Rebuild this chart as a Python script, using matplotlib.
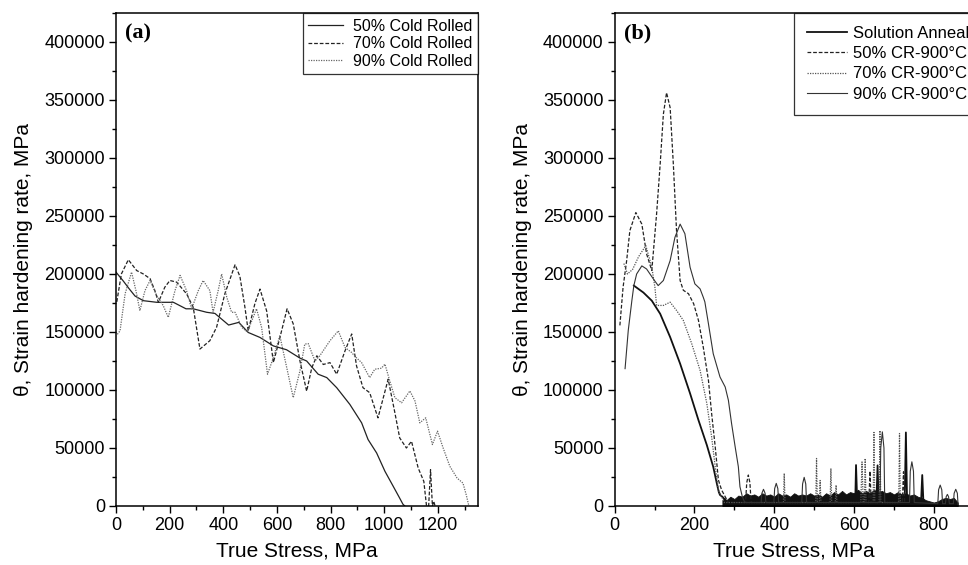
import matplotlib
matplotlib.use("Agg")
import matplotlib.pyplot as plt
from matplotlib.ticker import MultipleLocator, FuncFormatter

plt.rcParams['font.family'] = ['Liberation Sans', 'DejaVu Sans']

# (a) cold rolled sheets: true stress (MPa) vs strain hardening rate (MPa)
cr50_stress = [0, 27, 50, 71, 102, 152, 214, 261, 288, 338, 369, 420, 458, 493, 537, 587, 636,
               686, 711, 754, 786, 823, 872, 916, 940, 972, 1003, 1034, 1058, 1070, 1077]
cr50_theta = [201600, 194000, 187000, 181000, 177000, 175600, 175600, 170000, 170000, 167000,
              166000, 156000, 158300, 149600, 145300, 138000, 134700, 127500, 125000, 113600,
              110700, 102000, 87600, 71700, 57300, 45700, 29900, 16900, 6750, 1560, 0]

cr70_stress = [3, 20, 46, 77, 102, 127, 145, 158, 182, 201, 226, 263, 288, 313, 350, 375, 406,
               444, 462, 481, 493, 518, 537, 562, 587, 611, 638, 661, 686, 711, 730, 749, 773,
               798, 823, 854, 879, 897, 921, 946, 977, 1015, 1040, 1058, 1083, 1102, 1127, 1148,
               1158, 1166, 1173, 1180, 1185, 1190, 1195]
cr70_theta = [176000, 200000, 212300, 203000, 200000, 196000, 185700, 175600, 188600, 194400,
              193000, 183000, 171300, 135300, 142500, 154000, 183000, 208000, 198000, 171000,
              151000, 174500, 187000, 168000, 123600, 145000, 170000, 157000, 125000, 99000,
              119000, 129500, 122000, 123600, 113600, 133700, 148300, 120800, 102000, 97700,
              76000, 109300, 80400, 58700, 50000, 55800, 32700, 21200, 0, 0, 31300, 0, 4000, 0, 0]

cr90_stress = [5, 15, 34, 58, 75, 89, 108, 127, 152, 176, 195, 220, 239, 263, 282, 307, 325,
               350, 362, 381, 394, 413, 431, 444, 469, 490, 524, 543, 565, 587, 611, 642, 661,
               686, 704, 717, 742, 760, 798, 829, 854, 879, 891, 916, 946, 965, 990, 1003, 1021,
               1040, 1065, 1096, 1115, 1133, 1155, 1180, 1199, 1220, 1245, 1272, 1294, 1306, 1316]
cr90_theta = [148000, 151000, 183000, 201600, 185000, 168400, 185700, 194400, 181400, 172800,
              162600, 185700, 198800, 185700, 170000, 185700, 194400, 185700, 167000, 185700,
              200000, 180000, 167000, 167000, 154000, 150000, 170000, 154000, 113600, 128000,
              146800, 113600, 93400, 116500, 139600, 140000, 125000, 129500, 142500, 151000,
              136700, 132300, 129000, 123600, 110700, 117900, 118800, 122300, 107800, 93400,
              89000, 99200, 90500, 71700, 76000, 53000, 64500, 50000, 34200, 24100, 19700,
              9700, 0]

# (b) solution annealed and cold rolled + 900°C annealed
sa_stress = [48, 72, 93, 114, 139, 164, 189, 210, 231, 247, 256, 261, 264, 270, 275, 282,
             603, 605, 608, 656, 659, 662, 727, 730, 733, 768, 771, 774]
sa_theta = [190000, 184000, 177000, 165700, 145600, 122700, 97000, 74000, 52500, 33800, 19500,
            12000, 9500, 8000, 6000, 3000,
            3000, 35300, 3000, 3000, 35000, 3000, 3000, 63400, 3000, 3000, 26700, 3000]

a50_stress = [13, 21, 30, 38, 53, 68, 80, 93, 105, 114, 122, 130, 139, 147, 155, 164, 172, 185,
              198, 210, 222, 235, 243, 252, 260, 268, 277, 285,
              328, 331, 335, 339, 342, 637, 640, 643, 721, 724, 727]
a50_theta = [155700, 188600, 211600, 237400, 253000, 243000, 217300, 203000, 251700, 294700,
             337700, 356300, 343400, 294700, 237400, 194400, 186000, 183000, 174300, 160000,
             137000, 108400, 79700, 51000, 22400, 13800, 8000, 3000,
             3000, 20000, 26700, 20000, 3000, 3000, 30000, 3000, 3000, 29500, 3000]

a70_stress = [23, 32, 45, 60, 78, 93, 101, 105, 122, 139, 155, 172, 193, 214, 231, 243, 252,
              260, 268, 275,
              423, 425, 427, 504, 506, 508, 513, 515, 517, 540, 542, 544, 553, 555, 557,
              617, 620, 623, 626, 628, 630, 648, 650, 652, 663, 665, 667, 712, 714, 716]
a70_theta = [209000, 200000, 204000, 215000, 224500, 206000, 188000, 172900, 172900, 175700,
             168600, 160000, 140000, 117000, 88300, 59600, 33800, 13800, 8000, 3000,
             3000, 28100, 3000, 3000, 41000, 3000, 3000, 22000, 3000, 3000, 32400, 3000,
             3000, 18000, 3000, 3000, 38000, 3000, 3000, 41000, 3000, 3000, 63400, 3000,
             3000, 65000, 3000, 3000, 62500, 3000]

a90_stress = [26, 34, 43, 48, 55, 68, 80, 97, 109, 122, 139, 151, 164, 176, 189, 201, 214, 222,
              226, 235, 247, 264, 277, 285, 293, 302, 310, 314, 320, 326,
              367, 369, 373, 377, 379, 399, 401, 405, 409, 411, 469, 471, 475, 479, 481,
              665, 667, 671, 675, 677, 739, 741, 745, 749, 751, 810, 812, 816, 820, 822,
              829, 831, 834, 837, 839, 849, 851, 855, 859, 861]
a90_theta = [118400, 151400, 177000, 190000, 200000, 207000, 204300, 195700, 190000, 194400,
             211600, 231600, 243000, 234700, 205800, 191500, 187200, 180000, 176000, 157100,
             131300, 111200, 102600, 91200, 71100, 51000, 33800, 16600, 8000, 3000,
             3000, 11000, 14400, 11000, 3000, 3000, 15000, 19500, 15000, 3000,
             3000, 19000, 24700, 19000, 3000, 3000, 50000, 63900, 50000, 3000,
             3000, 30000, 38100, 30000, 3000, 2000, 14000, 18000, 14000, 2000,
             2000, 8000, 10000, 8000, 2000, 2000, 11000, 14400, 11000, 0]

# top of the dense oscillation band after the drop
band_stress = [270, 275, 280, 290, 300, 310, 320, 330, 340, 350, 360, 370, 380, 390, 400, 410,
               420, 430, 440, 450, 460, 470, 480, 490, 500, 510, 520, 530, 540, 550, 560, 570,
               580, 590, 600, 610, 620, 630, 640, 650, 660, 670, 680, 690, 700, 710, 720, 730,
               740, 750, 760, 770, 780, 790, 800, 810, 820, 830, 840, 850, 860]
band_theta = [5000, 7000, 5000, 8000, 6000, 9000, 8000, 11000, 9000, 10000, 8000, 11000, 9000,
              10000, 8000, 11000, 9000, 10000, 8000, 11000, 9000, 10000, 9000, 11000, 9000, 10000,
              8000, 11000, 9000, 12000, 10000, 13000, 10000, 12000, 11000, 14000, 11000, 13000,
              11000, 14000, 12000, 13000, 11000, 12000, 10000, 12000, 10000, 11000, 9000, 10000,
              8000, 7000, 5000, 4000, 3000, 4000, 6000, 7000, 6000, 7000, 3000]

fig = plt.figure(figsize=(9.68, 5.65), dpi=100)
ax1 = fig.add_axes([116 / 968, 59 / 565, 362 / 968, 493 / 565])
ax2 = fig.add_axes([614.7 / 968, 59 / 565, 359 / 968, 493 / 565])

ax1.plot(cr50_stress, cr50_theta, color='#222222', lw=0.9, label='50% Cold Rolled')
ax1.plot(cr70_stress, cr70_theta, color='#222222', lw=0.9, ls=(0, (3, 1.5)), label='70% Cold Rolled')
ax1.plot(cr90_stress, cr90_theta, color='#666666', lw=0.9, ls=(0, (1, 1)), label='90% Cold Rolled')

ax2.fill_between(band_stress, 0, band_theta, color='#111111', lw=0.6, edgecolor='#111111')
ax2.plot(sa_stress, sa_theta, color='#111111', lw=1.3, label='Solution Anneal')
ax2.plot(a50_stress, a50_theta, color='#222222', lw=0.9, ls=(0, (3, 1.5)), label='50% CR-900°C')
ax2.plot(a70_stress, a70_theta, color='#555555', lw=0.9, ls=(0, (1, 1)), label='70% CR-900°C')
ax2.plot(a90_stress, a90_theta, color='#333333', lw=0.8, label='90% CR-900°C')

fmt = FuncFormatter(lambda v, p: '%d' % v)
for ax, xmax, tag in [(ax1, 1350, '(a)'), (ax2, 900, '(b)')]:
    ax.set_xlim(0, xmax)
    ax.set_ylim(0, 425000)
    ax.xaxis.set_major_locator(MultipleLocator(200))
    ax.xaxis.set_minor_locator(MultipleLocator(100))
    ax.yaxis.set_major_locator(MultipleLocator(50000))
    ax.yaxis.set_minor_locator(MultipleLocator(25000))
    ax.yaxis.set_major_formatter(fmt)
    ax.tick_params(which='both', direction='out', top=False, right=False, labelsize=13, pad=3)
    ax.tick_params(which='major', length=5, width=1)
    ax.tick_params(which='minor', length=3, width=1)
    for sp in ax.spines.values():
        sp.set_linewidth(1.1)
    ax.set_xlabel('True Stress, MPa', fontsize=15, labelpad=5)
    ax.set_ylabel('θ, Strain hardening rate, MPa', fontsize=15, labelpad=8)
    ax.text(0.025, 0.958, tag, transform=ax.transAxes, ha='left', va='center',
            fontsize=16, fontweight='bold', family='Liberation Serif')

leg1 = ax1.legend(loc='upper right', fontsize=11.5, frameon=True, fancybox=False,
                  edgecolor='black', borderaxespad=0, handlelength=2.2, handletextpad=0.6,
                  labelspacing=0.16, borderpad=0.35)
leg1.get_frame().set_linewidth(0.9)

leg2 = ax2.legend(loc='upper left', bbox_to_anchor=(0.5, 1.0), fontsize=12, frameon=True,
                  fancybox=False, edgecolor='black', borderaxespad=0, handlelength=2.4,
                  handletextpad=0.35, labelspacing=0.33, borderpad=0.75)
leg2.get_frame().set_linewidth(0.9)

fig.savefig('out.png', dpi=100)
